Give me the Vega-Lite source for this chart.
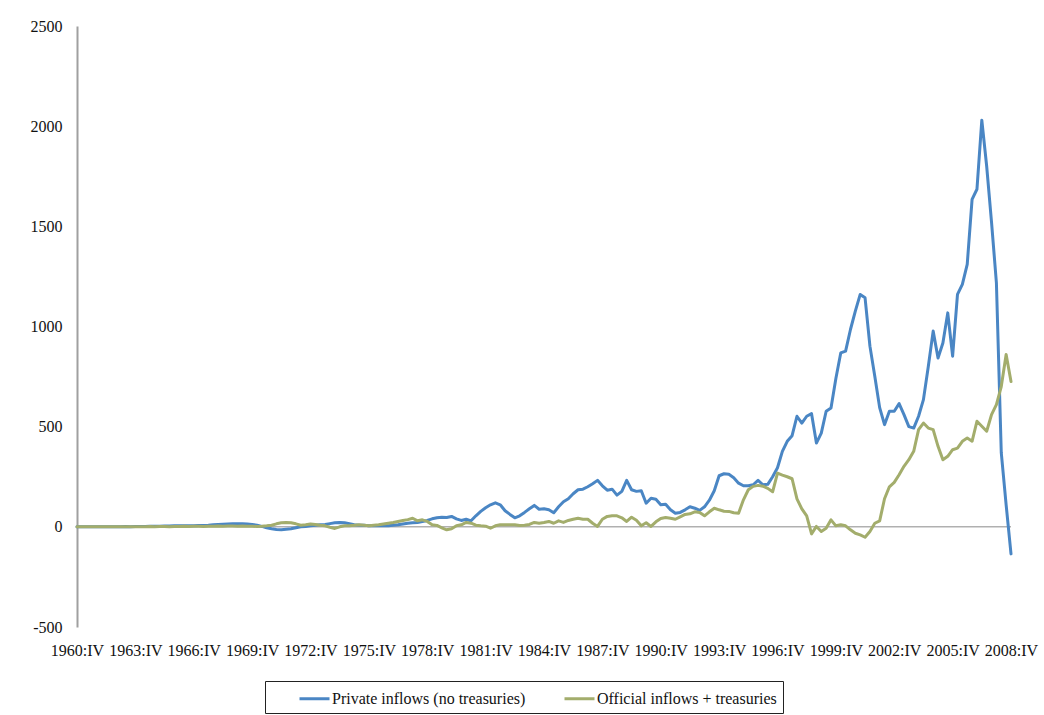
{
  "$schema": "https://vega.github.io/schema/vega-lite/v6.json",
  "width": 934,
  "height": 601,
  "autosize": {"type": "none"},
  "padding": {"left": 77, "top": 26, "right": 33, "bottom": 88},
  "background": "white",
  "config": {"view": {"stroke": null}, "font": "Liberation Serif"},
  "layer": [
    {
      "data": {"values": [{}]},
      "mark": {"type": "rule", "color": "#8a8a8a", "strokeWidth": 1},
      "encoding": {"y": {"datum": 0, "type": "quantitative"}}
    },
    {
      "data": {"values": [
        {"q":"1960:IV","p":0,"o":0},
        {"q":"1961:I","p":1,"o":0},{"q":"1961:II","p":0,"o":1},{"q":"1961:III","p":1,"o":0},{"q":"1961:IV","p":0,"o":1},
        {"q":"1962:I","p":1,"o":0},{"q":"1962:II","p":1,"o":1},{"q":"1962:III","p":0,"o":1},{"q":"1962:IV","p":1,"o":0},
        {"q":"1963:I","p":1,"o":1},{"q":"1963:II","p":2,"o":1},{"q":"1963:III","p":1,"o":1},{"q":"1963:IV","p":2,"o":0},
        {"q":"1964:I","p":2,"o":1},{"q":"1964:II","p":2,"o":1},{"q":"1964:III","p":3,"o":2},{"q":"1964:IV","p":3,"o":1},
        {"q":"1965:I","p":3,"o":2},{"q":"1965:II","p":4,"o":2},{"q":"1965:III","p":4,"o":1},{"q":"1965:IV","p":5,"o":2},
        {"q":"1966:I","p":5,"o":2},{"q":"1966:II","p":5,"o":3},{"q":"1966:III","p":6,"o":2},{"q":"1966:IV","p":6,"o":3},
        {"q":"1967:I","p":7,"o":3},{"q":"1967:II","p":7,"o":2},{"q":"1967:III","p":8,"o":3},{"q":"1967:IV","p":10,"o":3},
        {"q":"1968:I","p":12,"o":4},{"q":"1968:II","p":13,"o":3},{"q":"1968:III","p":14,"o":4},{"q":"1968:IV","p":15,"o":4},
        {"q":"1969:I","p":16,"o":3},{"q":"1969:II","p":15,"o":4},{"q":"1969:III","p":14,"o":3},{"q":"1969:IV","p":12,"o":3},
        {"q":"1970:I","p":8,"o":2},{"q":"1970:II","p":2,"o":3},{"q":"1970:III","p":-5,"o":5},{"q":"1970:IV","p":-10,"o":8},
        {"q":"1971:I","p":-13,"o":15},{"q":"1971:II","p":-14,"o":20},{"q":"1971:III","p":-12,"o":22},{"q":"1971:IV","p":-10,"o":20},
        {"q":"1972:I","p":-5,"o":15},{"q":"1972:II","p":0,"o":8},{"q":"1972:III","p":2,"o":10},{"q":"1972:IV","p":5,"o":14},
        {"q":"1973:I","p":8,"o":12},{"q":"1973:II","p":10,"o":8},{"q":"1973:III","p":12,"o":5},{"q":"1973:IV","p":16,"o":-2},
        {"q":"1974:I","p":20,"o":-8},{"q":"1974:II","p":22,"o":0},{"q":"1974:III","p":20,"o":5},{"q":"1974:IV","p":15,"o":6},
        {"q":"1975:I","p":10,"o":8},{"q":"1975:II","p":8,"o":10},{"q":"1975:III","p":8,"o":8},{"q":"1975:IV","p":6,"o":6},
        {"q":"1976:I","p":6,"o":8},{"q":"1976:II","p":5,"o":10},{"q":"1976:III","p":5,"o":14},{"q":"1976:IV","p":6,"o":18},
        {"q":"1977:I","p":8,"o":22},{"q":"1977:II","p":10,"o":27},{"q":"1977:III","p":14,"o":32},{"q":"1977:IV","p":18,"o":36},
        {"q":"1978:I","p":20,"o":43},{"q":"1978:II","p":22,"o":30},{"q":"1978:III","p":26,"o":35},{"q":"1978:IV","p":32,"o":27},
        {"q":"1979:I","p":40,"o":10},{"q":"1979:II","p":45,"o":7},{"q":"1979:III","p":48,"o":-5},{"q":"1979:IV","p":47,"o":-15},
        {"q":"1980:I","p":52,"o":-10},{"q":"1980:II","p":40,"o":5},{"q":"1980:III","p":32,"o":10},{"q":"1980:IV","p":38,"o":22},
        {"q":"1981:I","p":30,"o":18},{"q":"1981:II","p":55,"o":8},{"q":"1981:III","p":77,"o":5},{"q":"1981:IV","p":95,"o":3},
        {"q":"1982:I","p":110,"o":-7},{"q":"1982:II","p":120,"o":5},{"q":"1982:III","p":110,"o":10},{"q":"1982:IV","p":80,"o":10},
        {"q":"1983:I","p":62,"o":10},{"q":"1983:II","p":45,"o":10},{"q":"1983:III","p":55,"o":7},{"q":"1983:IV","p":72,"o":8},
        {"q":"1984:I","p":90,"o":12},{"q":"1984:II","p":107,"o":22},{"q":"1984:III","p":88,"o":18},{"q":"1984:IV","p":90,"o":22},
        {"q":"1985:I","p":85,"o":27},{"q":"1985:II","p":70,"o":18},{"q":"1985:III","p":100,"o":30},{"q":"1985:IV","p":125,"o":22},
        {"q":"1986:I","p":140,"o":32},{"q":"1986:II","p":165,"o":38},{"q":"1986:III","p":185,"o":43},{"q":"1986:IV","p":188,"o":38},
        {"q":"1987:I","p":200,"o":38},{"q":"1987:II","p":215,"o":18},{"q":"1987:III","p":232,"o":2},{"q":"1987:IV","p":205,"o":38},
        {"q":"1988:I","p":183,"o":52},{"q":"1988:II","p":188,"o":55},{"q":"1988:III","p":158,"o":55},{"q":"1988:IV","p":177,"o":45},
        {"q":"1989:I","p":232,"o":27},{"q":"1989:II","p":185,"o":48},{"q":"1989:III","p":177,"o":33},{"q":"1989:IV","p":180,"o":5},
        {"q":"1990:I","p":118,"o":20},{"q":"1990:II","p":143,"o":2},{"q":"1990:III","p":138,"o":25},{"q":"1990:IV","p":110,"o":42},
        {"q":"1991:I","p":113,"o":47},{"q":"1991:II","p":85,"o":43},{"q":"1991:III","p":68,"o":38},{"q":"1991:IV","p":72,"o":50},
        {"q":"1992:I","p":85,"o":62},{"q":"1992:II","p":100,"o":65},{"q":"1992:III","p":93,"o":75},{"q":"1992:IV","p":82,"o":72},
        {"q":"1993:I","p":100,"o":55},{"q":"1993:II","p":133,"o":75},{"q":"1993:III","p":180,"o":93},{"q":"1993:IV","p":255,"o":85},
        {"q":"1994:I","p":265,"o":78},{"q":"1994:II","p":262,"o":77},{"q":"1994:III","p":245,"o":70},{"q":"1994:IV","p":218,"o":68},
        {"q":"1995:I","p":205,"o":135},{"q":"1995:II","p":205,"o":185},{"q":"1995:III","p":210,"o":202},{"q":"1995:IV","p":232,"o":207},
        {"q":"1996:I","p":210,"o":203},{"q":"1996:II","p":212,"o":192},{"q":"1996:III","p":250,"o":175},{"q":"1996:IV","p":295,"o":268},
        {"q":"1997:I","p":377,"o":258},{"q":"1997:II","p":427,"o":250},{"q":"1997:III","p":455,"o":240},{"q":"1997:IV","p":552,"o":140},
        {"q":"1998:I","p":518,"o":90},{"q":"1998:II","p":552,"o":55},{"q":"1998:III","p":565,"o":-35},{"q":"1998:IV","p":418,"o":2},
        {"q":"1999:I","p":468,"o":-23},{"q":"1999:II","p":577,"o":-7},{"q":"1999:III","p":593,"o":35},{"q":"1999:IV","p":740,"o":5},
        {"q":"2000:I","p":868,"o":10},{"q":"2000:II","p":877,"o":5},{"q":"2000:III","p":985,"o":-15},{"q":"2000:IV","p":1077,"o":-32},
        {"q":"2001:I","p":1160,"o":-40},{"q":"2001:II","p":1143,"o":-52},{"q":"2001:III","p":902,"o":-23},{"q":"2001:IV","p":752,"o":18},
        {"q":"2002:I","p":595,"o":30},{"q":"2002:II","p":510,"o":140},{"q":"2002:III","p":577,"o":200},{"q":"2002:IV","p":577,"o":222},
        {"q":"2003:I","p":615,"o":260},{"q":"2003:II","p":560,"o":302},{"q":"2003:III","p":500,"o":335},{"q":"2003:IV","p":493,"o":377},
        {"q":"2004:I","p":552,"o":485},{"q":"2004:II","p":635,"o":518},{"q":"2004:III","p":800,"o":493},{"q":"2004:IV","p":977,"o":485},
        {"q":"2005:I","p":843,"o":402},{"q":"2005:II","p":918,"o":335},{"q":"2005:III","p":1068,"o":352},{"q":"2005:IV","p":852,"o":385},
        {"q":"2006:I","p":1160,"o":393},{"q":"2006:II","p":1210,"o":427},{"q":"2006:III","p":1310,"o":443},{"q":"2006:IV","p":1635,"o":427},
        {"q":"2007:I","p":1685,"o":527},{"q":"2007:II","p":2030,"o":502},{"q":"2007:III","p":1800,"o":477},{"q":"2007:IV","p":1520,"o":560},
        {"q":"2008:I","p":1218,"o":610},{"q":"2008:II","p":370,"o":700},{"q":"2008:III","p":110,"o":860},{"q":"2008:IV","p":-135,"o":725}
      ]},
      "transform": [{"fold": ["p", "o"], "as": ["series", "value"]}],
      "mark": {"type": "line", "strokeWidth": 3, "strokeJoin": "round", "strokeCap": "round"},
      "encoding": {
        "x": {
          "field": "q", "type": "ordinal", "sort": null,
          "scale": {"type": "point", "padding": 0},
          "axis": {
            "values": ["1960:IV","1963:IV","1966:IV","1969:IV","1972:IV","1975:IV","1978:IV","1981:IV","1984:IV","1987:IV","1990:IV","1993:IV","1996:IV","1999:IV","2002:IV","2005:IV","2008:IV"],
            "title": null, "labelAngle": 0, "domain": false, "ticks": false, "tickSize": 0,
            "grid": false, "labelPadding": 15, "labelFontSize": 16, "labelColor": "#111111",
            "labelFont": "Liberation Serif", "labelOverlap": false, "labelBaseline": "top"
          }
        },
        "y": {
          "field": "value", "type": "quantitative",
          "scale": {"domain": [-500, 2500], "nice": false, "zero": false},
          "axis": {
            "values": [-500, 0, 500, 1000, 1500, 2000, 2500],
            "title": null, "grid": false, "ticks": false, "tickSize": 0,
            "domainColor": "#a0a0a0", "domainWidth": 2,
            "labelPadding": 15, "labelFontSize": 16, "labelColor": "#111111",
            "labelFont": "Liberation Serif", "labelExpr": "'' + datum.value"
          }
        },
        "color": {
          "field": "series", "type": "nominal",
          "scale": {"domain": ["p", "o"], "range": ["#4a86c4", "#a3ad6c"]},
          "legend": {
            "orient": "none", "legendX": 188, "legendY": 655,
            "direction": "horizontal", "title": null,
            "symbolType": "M-1.5,0H1.5", "symbolStrokeWidth": 3, "symbolSize": 400,
            "symbolOffset": 32,
            "labelFontSize": 16, "labelFont": "Liberation Serif", "labelColor": "#111111",
            "labelExpr": "datum.label == 'p' ? 'Private inflows (no treasuries)' : 'Official inflows + treasuries'",
            "labelLimit": 400, "labelOffset": 6, "gridAlign": "all",
            "strokeColor": "#222222", "padding": 6, "columnPadding": 10
          }
        }
      }
    }
  ]
}
